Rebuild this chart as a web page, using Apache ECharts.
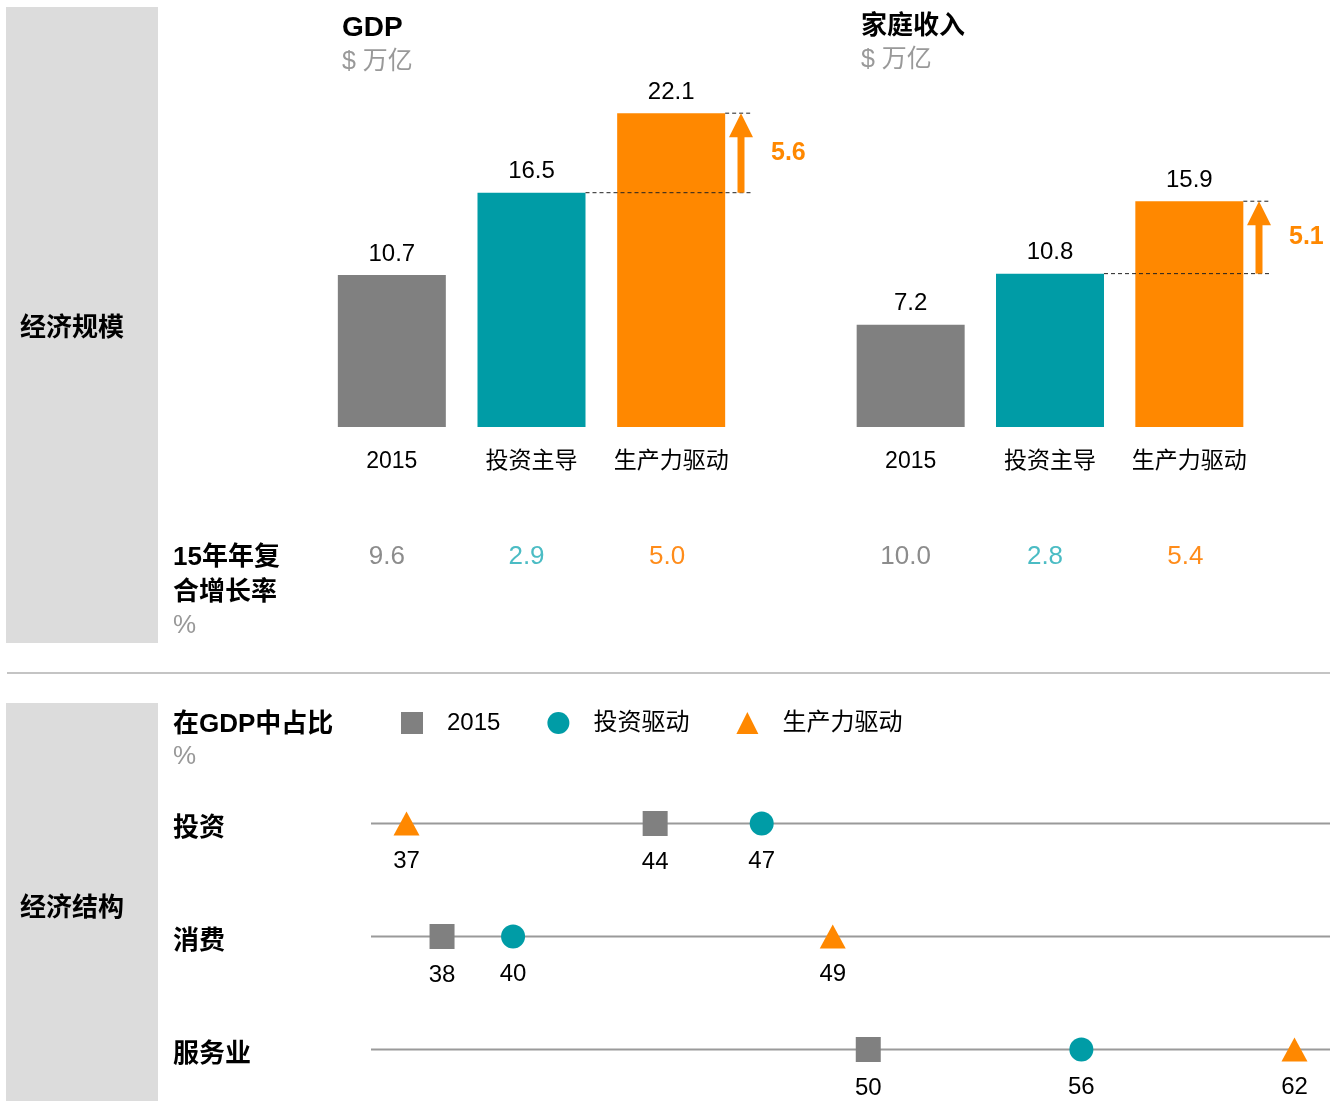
<!DOCTYPE html>
<html>
<head>
<meta charset="utf-8">
<title>经济规模与经济结构</title>
<script src="https://cdn.jsdelivr.net/npm/echarts@6/dist/echarts.min.js"></script>
<style>
  html, body { margin: 0; padding: 0; background: #fff; }
  #main { width: 1341px; height: 1101px; }
</style>
</head>
<body>
<div id="main"></div>
<script>
// 数据
var barCats = ['2015', '投资主导', '生产力驱动'];
var gdpVals = [10.7, 16.5, 22.1];
var gdpGrowth = ['9.6', '2.9', '5.0'];
var gdpUplift = '5.6';
var incomeVals = [7.2, 10.8, 15.9];
var incomeGrowth = ['10.0', '2.8', '5.4'];
var incomeUplift = '5.1';

var shareRows = ['投资', '消费', '服务业'];
var share2015 = [44, 38, 50];
var shareInvest = [47, 40, 56];
var shareProd = [37, 49, 62];
var legendNames = ['2015', '投资驱动', '生产力驱动'];

var GRAY = '#808080', TEAL = '#009ca6', ORANGE = '#ff8800';
var barColors = [GRAY, TEAL, ORANGE];
var FONT = '"Liberation Sans", Arial, "Noto Sans CJK SC", sans-serif';

var myChart = echarts.init(document.getElementById('main'));

function growthAxis(gridIdx, data) {
    return {
        type: 'category', gridIndex: gridIdx, data: data, position: 'bottom', offset: 94,
        axisLine: {show: false}, axisTick: {show: false},
        axisLabel: {
            margin: 23, interval: 0,
            formatter: function (v, i) { return '{g' + i + '|' + v + '}'; },
            rich: {
                g0: {fontSize: 26, color: '#8c8c8c', padding: [0, 10, 0, 0]},
                g1: {fontSize: 26, color: '#4bbcc4', padding: [0, 10, 0, 0]},
                g2: {fontSize: 26, color: '#ff8c1a', padding: [0, 8, 0, 0]}
            }
        }
    };
}
function catAxis(gridIdx) {
    return {
        type: 'category', gridIndex: gridIdx, data: barCats,
        axisLine: {show: false}, axisTick: {show: false},
        axisLabel: {margin: 23, interval: 0, fontSize: 23, color: '#000'}
    };
}
function barSeries(idx, vals) {
    return {
        type: 'bar', xAxisIndex: idx * 2, yAxisIndex: idx, barWidth: 108,
        data: vals.map(function (v, i) { return {value: v, itemStyle: {color: barColors[i]}}; }),
        label: {show: true, position: 'top', distance: 9, fontSize: 24, color: '#000'}
    };
}
// 增量箭头和虚线
function upliftSeries(idx, vals, txt) {
    return {
        type: 'custom', xAxisIndex: idx * 2, yAxisIndex: idx, clip: false, z: 5,
        data: [[2, vals[2], vals[1]]],
        encode: {x: 0, y: 1},
        renderItem: function (params, api) {
            var top = api.coord([2, api.value(1)]);
            var low = api.coord([1, api.value(2)]);
            var band = api.size([1, 0])[0];
            var half = 54;
            var ax = top[0] + band / 2;
            var end = ax + 12;
            var dash = {stroke: '#222', lineWidth: 1, lineDash: [4, 3]};
            return {
                type: 'group',
                children: [
                    {type: 'line', shape: {x1: low[0] + half, y1: low[1], x2: end, y2: low[1]}, style: dash},
                    {type: 'line', shape: {x1: top[0] + half, y1: top[1], x2: end, y2: top[1]}, style: dash},
                    {type: 'rect', shape: {x: ax - 3.5, y: top[1] + 22, width: 7, height: low[1] - top[1] - 22},
                        style: {fill: ORANGE}},
                    {type: 'polygon', shape: {points: [[ax - 12, top[1] + 24], [ax + 12, top[1] + 24], [ax, top[1]]]},
                        style: {fill: ORANGE}},
                    {type: 'text', style: {text: txt, x: ax + 30, y: (top[1] + low[1]) / 2,
                        fill: ORANGE, font: 'bold 25px ' + FONT, align: 'left', verticalAlign: 'middle'}}
                ]
            };
        }
    };
}
function scatterSeries(name, vals, symbol, size, color) {
    return {
        name: name, type: 'scatter', xAxisIndex: 4, yAxisIndex: 2, z: 5,
        symbol: symbol, symbolSize: size, itemStyle: {color: color, opacity: 1},
        data: vals.map(function (v, i) { return [v, shareRows[i]]; }),
        label: {
            show: true, position: 'bottom', distance: 14, fontSize: 24, color: '#000',
            formatter: function (p) { return p.value[0]; }
        }
    };
}

var option = {
    animation: false,
    textStyle: {fontFamily: FONT},
    graphic: [
        {type: 'rect', shape: {x: 6, y: 7, width: 152, height: 636}, style: {fill: '#dcdcdc'}, z: -10},
        {type: 'rect', shape: {x: 6, y: 703, width: 152, height: 400}, style: {fill: '#dcdcdc'}, z: -10},
        {type: 'line', shape: {x1: 7, y1: 673, x2: 1330, y2: 673}, style: {stroke: '#c4c4c4', lineWidth: 2}, z: -10}
    ],
    title: [
        {text: 'GDP', subtext: '$ 万亿', left: 337, top: 9, itemGap: 8,
            textStyle: {fontSize: 28, fontWeight: 'bold', color: '#000'},
            subtextStyle: {fontSize: 25, color: '#999'}},
        {text: '家庭收入', subtext: '$ 万亿', left: 856, top: 9, itemGap: 8,
            textStyle: {fontSize: 26, fontWeight: 'bold', color: '#000'},
            subtextStyle: {fontSize: 25, color: '#999'}},
        {text: '经济规模', left: 15, top: 311, textStyle: {fontSize: 26, fontWeight: 'bold', color: '#000'}},
        {text: '经济结构', left: 15, top: 891, textStyle: {fontSize: 26, fontWeight: 'bold', color: '#000'}},
        {text: '15年年复\n合增长率', subtext: '%', left: 168, top: 535, itemGap: 3,
            textStyle: {fontSize: 26, fontWeight: 'bold', color: '#000', lineHeight: 35},
            subtextStyle: {fontSize: 26, color: '#999'}},
        {text: '在GDP中占比', subtext: '%', left: 168, top: 707, itemGap: 6,
            textStyle: {fontSize: 26, fontWeight: 'bold', color: '#000'},
            subtextStyle: {fontSize: 26, color: '#999'}}
    ],
    legend: {
        data: legendNames, left: 396, top: 706, itemWidth: 22, itemHeight: 22, itemGap: 47,
        textStyle: {fontSize: 24, color: '#000', padding: [0, 0, 0, 19]}
    },
    grid: [
        {left: 322, width: 419, top: 72, height: 355, outerBoundsMode: 'none'},
        {left: 841, width: 418, top: 72, height: 355, outerBoundsMode: 'none'},
        {left: 371, right: 11, top: 767, height: 339, outerBoundsMode: 'none'}
    ],
    xAxis: [
        catAxis(0), growthAxis(0, gdpGrowth),
        catAxis(1), growthAxis(1, incomeGrowth),
        {type: 'value', gridIndex: 2, min: 36, max: 63, show: false}
    ],
    yAxis: [
        {type: 'value', gridIndex: 0, min: 0, max: 25, show: false},
        {type: 'value', gridIndex: 1, min: 0, max: 25, show: false},
        {type: 'category', gridIndex: 2, data: shareRows, inverse: true,
            axisLine: {show: false}, axisTick: {show: false}, splitLine: {show: false},
            axisLabel: {align: 'left', margin: 198,
                formatter: function (v) { return '{r|' + v + '}'; },
                rich: {r: {fontSize: 26, fontWeight: 'bold', color: '#000', padding: [10, 0, 0, 0]}}}}
    ],
    series: [
        barSeries(0, gdpVals),
        barSeries(1, incomeVals),
        upliftSeries(0, gdpVals, gdpUplift),
        upliftSeries(1, incomeVals, incomeUplift),
        {
            // 每行的横线
            type: 'custom', xAxisIndex: 4, yAxisIndex: 2, z: 1, silent: true,
            data: shareRows.map(function (r, i) { return [36, i]; }),
            encode: {x: 0, y: 1},
            renderItem: function (params, api) {
                var y = api.coord([36, api.value(1)])[1];
                var cs = params.coordSys;
                return {type: 'line', shape: {x1: cs.x, y1: y, x2: cs.x + cs.width, y2: y},
                    style: {stroke: '#9a9a9a', lineWidth: 2}};
            }
        },
        scatterSeries(legendNames[0], share2015, 'rect', 25, GRAY),
        scatterSeries(legendNames[1], shareInvest, 'circle', 24, TEAL),
        scatterSeries(legendNames[2], shareProd, 'triangle', [26, 24], ORANGE)
    ]
};
myChart.setOption(option);
window.onresize = function () { myChart.resize(); };
</script>
</body>
</html>
